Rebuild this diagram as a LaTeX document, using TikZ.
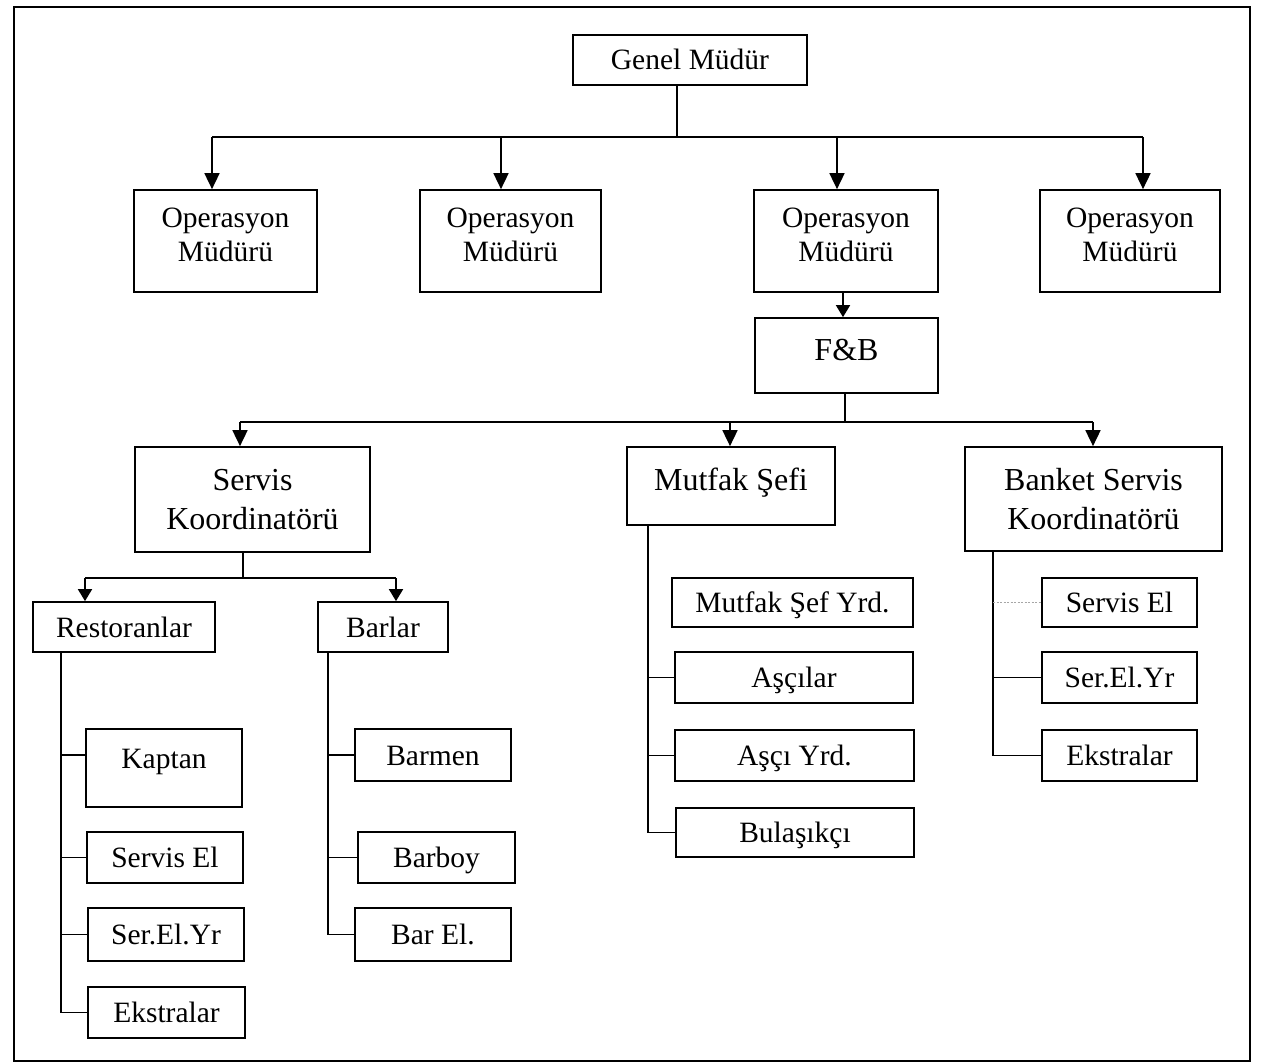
\documentclass[tikz,border=0pt]{standalone}
\usepackage{fontspec}
\setmainfont{Liberation Serif}
\usetikzlibrary{arrows.meta}

\begin{document}
\begin{tikzpicture}[x=1pt,y=-1pt,
  box/.style={draw, line width=1.7pt, inner sep=0pt, align=center,
    font=\fontsize{29.5}{34}\selectfont},
  onebox/.style={box, text height=20pt, text depth=0pt},
  bigbox/.style={box, font=\fontsize{32}{39}\selectfont},
  link/.style={line width=1.7pt},
  arr/.style={link, -{Triangle[width=15pt,length=16pt]}},
  sarr/.style={link, -{Triangle[width=14pt,length=12pt]}},
  faint/.style={line width=0.8pt, gray!70, dash pattern=on 2pt off 1.5pt}]

\useasboundingbox[fill=white] (0,0) rectangle (1261,1064);
\draw[line width=1.5pt] (14,7) rectangle (1250,1061);

% top level
\node[onebox, minimum width=234pt, minimum height=50pt] (gm) at (690,60) {Genel Müdür};

\node[box, minimum width=183pt, minimum height=102pt, text depth=12pt] (om1) at (225.5,241) {Operasyon\\Müdürü};
\node[box, minimum width=181pt, minimum height=102pt, text depth=12pt] (om2) at (510.5,241) {Operasyon\\Müdürü};
\node[box, minimum width=184pt, minimum height=102pt, text depth=12pt] (om3) at (846,241) {Operasyon\\Müdürü};
\node[box, minimum width=180pt, minimum height=102pt, text depth=12pt] (om4) at (1130,241) {Operasyon\\Müdürü};

\node[bigbox, minimum width=183pt, minimum height=75pt, text depth=12pt] (fb) at (846.5,355.5) {F\&B};

% food and beverage departments
\node[bigbox, minimum width=235pt, minimum height=105pt] (sk) at (252.5,499.5) {Servis\\Koordinatörü};
\node[bigbox, minimum width=208pt, minimum height=78pt, text depth=14pt] (ms) at (731,486) {Mutfak Şefi};
\node[bigbox, minimum width=257pt, minimum height=104pt] (bsk) at (1093.5,499) {Banket Servis\\Koordinatörü};

% service coordinator branch
\node[onebox, minimum width=182pt, minimum height=50pt] (rest) at (124,627) {Restoranlar};
\node[onebox, minimum width=130pt, minimum height=50pt] (bar) at (383,627) {Barlar};

\node[box, minimum width=156pt, minimum height=78pt, text height=20pt, text depth=20pt] (kap) at (164,768) {Kaptan};
\node[onebox, minimum width=156pt, minimum height=51pt] (se1) at (165,857.5) {Servis El};
\node[onebox, minimum width=156pt, minimum height=53pt] (sey1) at (166,934.5) {Ser.El.Yr};
\node[onebox, minimum width=157pt, minimum height=51pt] (eks1) at (166.5,1012.5) {Ekstralar};

\node[onebox, minimum width=156pt, minimum height=52pt] (barmen) at (433,755) {Barmen};
\node[onebox, minimum width=157pt, minimum height=51pt] (barboy) at (436.5,857.5) {Barboy};
\node[onebox, minimum width=156pt, minimum height=53pt] (barel) at (433,934.5) {Bar El.};

% kitchen branch
\node[onebox, minimum width=241pt, minimum height=49pt] (msy) at (792.5,602.5) {Mutfak Şef Yrd.};
\node[onebox, minimum width=238pt, minimum height=51pt] (asc) at (794,677.5) {Aşçılar};
\node[onebox, minimum width=239pt, minimum height=51pt] (ascy) at (794.5,755.5) {Aşçı Yrd.};
\node[onebox, minimum width=238pt, minimum height=49pt] (bul) at (795,832.5) {Bulaşıkçı};

% banquet branch
\node[onebox, minimum width=155pt, minimum height=49pt] (se2) at (1119.5,602.5) {Servis El};
\node[onebox, minimum width=155pt, minimum height=51pt] (sey2) at (1119.5,677.5) {Ser.El.Yr};
\node[onebox, minimum width=155pt, minimum height=51pt] (eks2) at (1119.5,755.5) {Ekstralar};

% general manager -> operations managers
\coordinate (g) at (677,137);
\coordinate (b1) at (212,137);
\coordinate (b2) at (501,137);
\coordinate (b3) at (837,137);
\coordinate (b4) at (1143,137);
\draw[link] (gm.south -| g) -- (g);
\draw[link] (b1) -- (b4);
\draw[arr] (b1) -- (b1 |- om1.north);
\draw[arr] (b2) -- (b2 |- om2.north);
\draw[arr] (b3) -- (b3 |- om3.north);
\draw[arr] (b4) -- (b4 |- om4.north);

% operations manager -> F&B
\coordinate (o3) at (843,292);
\draw[sarr] (o3 |- om3.south) -- (o3 |- fb.north);

% F&B -> departments
\coordinate (f) at (845,422);
\coordinate (f1) at (240,422);
\coordinate (f2) at (730,422);
\coordinate (f3) at (1093,422);
\draw[link] (fb.south -| f) -- (f);
\draw[link] (f1) -- (f3);
\draw[arr] (f1) -- (f1 |- sk.north);
\draw[arr] (f2) -- (f2 |- ms.north);
\draw[arr] (f3) -- (f3 |- bsk.north);

% service coordinator -> restaurants, bars
\coordinate (s) at (243,578);
\coordinate (s1) at (85,578);
\coordinate (s2) at (396,578);
\draw[link] (sk.south -| s) -- (s);
\draw[link] (s1) -- (s2);
\draw[sarr] (s1) -- (s1 |- rest.north);
\draw[sarr] (s2) -- (s2 |- bar.north);

% restaurants staff
\coordinate (r) at (61,0);
\draw[link] (rest.south -| r) -- (r |- eks1.west) -- (eks1.west);
\draw[link] ([yshift=13pt]kap.west -| r) -- ([yshift=13pt]kap.west);
\draw[link] (r |- se1.west) -- (se1.west);
\draw[link] (r |- sey1.west) -- (sey1.west);

% bars staff
\coordinate (br) at (328,0);
\draw[link] (bar.south -| br) -- (br |- barel.west) -- (barel.west);
\draw[link] (br |- barmen.west) -- (barmen.west);
\draw[link] (br |- barboy.west) -- (barboy.west);

% kitchen staff
\coordinate (k) at (648,0);
\draw[link] (ms.south -| k) -- (k |- bul.west) -- (bul.west);
\draw[link] (k |- asc.west) -- (asc.west);
\draw[link] (k |- ascy.west) -- (ascy.west);

% banquet staff
\coordinate (bq) at (993,0);
\draw[link] (bsk.south -| bq) -- (bq |- eks2.west) -- (eks2.west);
\draw[link] (bq |- sey2.west) -- (sey2.west);
\draw[faint] (bq |- se2.west) -- (se2.west);

\end{tikzpicture}
\end{document}
